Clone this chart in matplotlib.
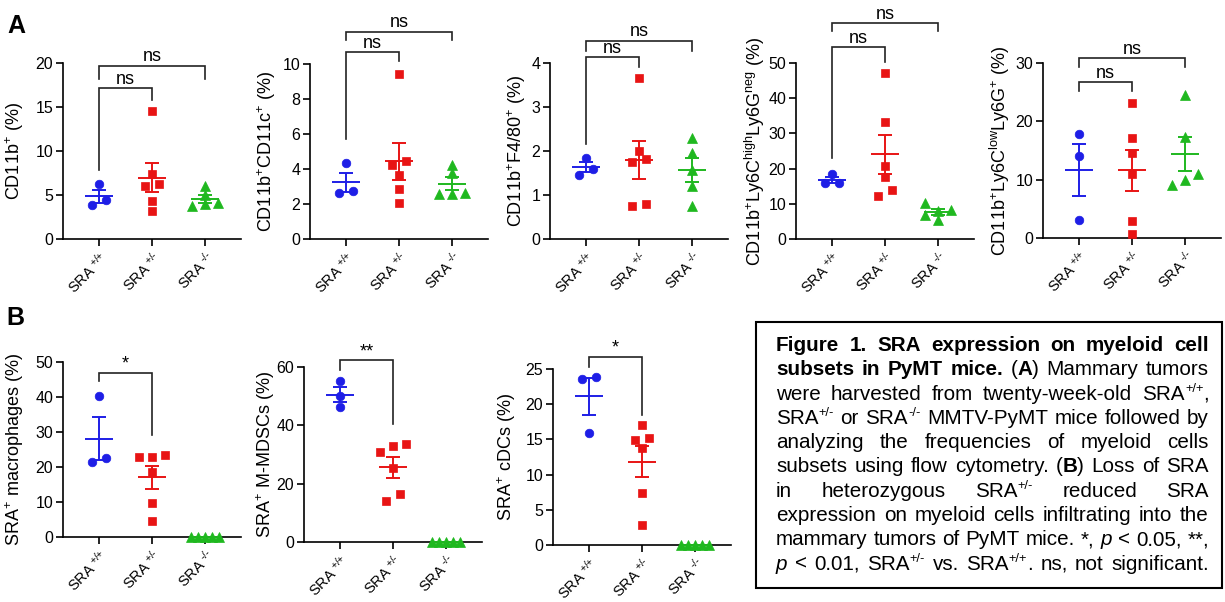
import re
import numpy as np
import matplotlib
matplotlib.use("Agg")
import matplotlib.pyplot as plt
from matplotlib.patches import Rectangle
from matplotlib.font_manager import FontProperties

plt.rcParams['font.family'] = ['Liberation Sans', 'DejaVu Sans']
plt.rcParams['mathtext.fontset'] = 'custom'
plt.rcParams['mathtext.rm'] = 'Liberation Sans'
plt.rcParams['mathtext.it'] = 'Liberation Sans:italic'
plt.rcParams['mathtext.bf'] = 'Liberation Sans:bold'
plt.rcParams['mathtext.default'] = 'regular'

W, H = 1225, 602

# ---------------- data ----------------
group_labels = [r"SRA$^{\text{ +/+}}$", r"SRA$^{\text{ +/-}}$", r"SRA$^{\text{ -/-}}$"]

# Panel A
cd11b_wt = [6.2, 3.9, 4.4]
cd11b_het = [14.6, 7.4, 6.0, 6.3, 4.3, 3.2]
cd11b_ko = [6.0, 3.7, 5.0, 4.0, 4.1]

cd11c_wt = [4.32, 2.65, 2.74]
cd11c_het = [9.41, 4.44, 4.25, 3.68, 2.86, 2.08]
cd11c_ko = [4.25, 3.75, 2.6, 2.6, 2.65]

f480_wt = [1.85, 1.45, 1.60]
f480_het = [3.65, 2.0, 1.74, 1.81, 0.75, 0.79]
f480_ko = [2.30, 1.96, 1.57, 1.21, 0.76]

ly6chigh_wt = [18.5, 15.8, 16.0]
ly6chigh_het = [47.2, 33.3, 20.6, 17.5, 12.3, 13.8]
ly6chigh_ko = [8.2, 5.4, 8.0, 10.1, 6.8]

ly6clow_wt = [17.8, 14.1, 3.1]
ly6clow_het = [23.2, 17.2, 14.6, 11.0, 3.0, 0.7]
ly6clow_ko = [24.6, 17.3, 11.0, 9.1, 10.0]

# Panel B
macro_wt = [40.2, 21.4, 22.6]
macro_het = [23.5, 22.9, 23.0, 18.7, 9.6, 4.5]
macro_ko = [0, 0, 0, 0, 0]

mmdsc_wt = [55.1, 50.1, 46.2]
mmdsc_het = [33.0, 33.6, 31.0, 25.3, 16.4, 14.1]
mmdsc_ko = [0, 0, 0, 0, 0]

cdc_wt = [23.8, 23.6, 15.9]
cdc_het = [17.0, 15.2, 14.9, 13.75, 7.4, 2.9]
cdc_ko = [0, 0, 0, 0, 0]

ylabels = [
    r"CD11b$^{\text{+}}$ (%)",
    r"CD11b$^{\text{+}}$CD11c$^{\text{+}}$ (%)",
    r"CD11b$^{\text{+}}$F4/80$^{\text{+}}$ (%)",
    r"CD11b$^{\text{+}}$Ly6C$^{\text{high}}$Ly6G$^{\text{neg}}$ (%)",
    r"CD11b$^{\text{+}}$Ly6C$^{\text{low}}$Ly6G$^{\text{+}}$ (%)",
    r"SRA$^{\text{+}}$ macrophages (%)",
    r"SRA$^{\text{+}}$ M-MDSCs (%)",
    r"SRA$^{\text{+}}$ cDCs (%)",
]
ymaxes = [20, 10, 4, 50, 30, 50, 60, 25]
ysteps = [5, 2, 1, 10, 10, 10, 20, 5]

caption_lines = [
    "{b:Figure 1. SRA expression on myeloid cell}",
    "{b:subsets in PyMT mice.} ({b:A}) Mammary tumors",
    "were harvested from twenty-week-old SRA{s:+/+},",
    "SRA{s:+/-} or SRA{s:-/-} MMTV-PyMT mice followed by",
    "analyzing the frequencies of myeloid cells",
    "subsets using flow cytometry. ({b:B}) Loss of SRA",
    "in heterozygous SRA{s:+/-} reduced SRA",
    "expression on myeloid cells infiltrating into the",
    "mammary tumors of PyMT mice. *, {i:p} < 0.05, **,",
    "{i:p} < 0.01, SRA{s:+/-} vs. SRA{s:+/+}. ns, not significant.",
]

# ---------------- styling / layout ----------------
colors = ['#1e1ee6', '#e81414', '#1fb81f']
markers = ['o', 's', '^']
msizes = [6.2, 5.8, 6.8]
AXW = 178.0
XLIM = (-0.68, 2.68)

panels = [
    dict(data=(cd11b_wt, cd11b_het, cd11b_ko), box=(63, 63, 239), lx=15,
         br=[(0, 1, 17.15, 7.85, 15.8, 'ns'), (0, 2, 19.7, 18.2, 18.2, 'ns')]),
    dict(data=(cd11c_wt, cd11c_het, cd11c_ko), box=(310, 64, 239), lx=267,
         br=[(0, 1, 10.7, 5.7, 10.2, 'ns'), (0, 2, 11.85, 11.4, 11.4, 'ns')]),
    dict(data=(f480_wt, f480_het, f480_ko), box=(550, 63, 239), lx=517,
         br=[(0, 1, 4.14, 2.15, 3.9, 'ns'), (0, 2, 4.51, 4.27, 4.27, 'ns')]),
    dict(data=(ly6chigh_wt, ly6chigh_het, ly6chigh_ko), box=(796, 63, 239), lx=755,
         br=[(0, 1, 54.5, 23.0, 50.3, 'ns'), (0, 2, 61.4, 59.0, 59.0, 'ns')]),
    dict(data=(ly6clow_wt, ly6clow_het, ly6clow_ko), box=(1043, 63, 238), lx=1000,
         br=[(0, 1, 26.7, 25.2, 25.2, 'ns'), (0, 2, 30.85, 29.4, 29.4, 'ns')]),
    dict(data=(macro_wt, macro_het, macro_ko), box=(63, 362, 537), lx=15,
         br=[(0, 1, 46.9, 44.5, 29.2, '*')]),
    dict(data=(mmdsc_wt, mmdsc_het, mmdsc_ko), box=(304, 367, 542), lx=266,
         br=[(0, 1, 62.3, 58.9, 40.4, '**')]),
    dict(data=(cdc_wt, cdc_het, cdc_ko), box=(553, 369, 545), lx=507,
         br=[(0, 1, 26.7, 25.3, 18.5, '*')]),
]


def swarm_offsets(vals, px_unit, px_cat, step_px=13.3, thr_px=7.5, max_half_px=14.0):
    v = np.asarray(vals, float)
    order = np.argsort(v, kind='stable')
    offs = np.zeros(len(v))
    chains, cur = [], [order[0]]
    for a, b in zip(order[:-1], order[1:]):
        if (v[b] - v[a]) * px_unit < thr_px:
            cur.append(b)
        else:
            chains.append(cur)
            cur = [b]
    chains.append(cur)
    for ch in chains:
        n = len(ch)
        if n == 1:
            continue
        span = (v[ch[-1]] - v[ch[0]]) * px_unit
        if n <= 3 or span < thr_px:
            s = min(step_px, 2 * max_half_px / (n - 1))
            for i, idx in enumerate(ch):
                offs[idx] = (i - (n - 1) / 2) * s
        else:
            placed = []
            for idx in ch:
                for c in [0, -1, 1, -2, 2]:
                    ok = all(not (pc == c and abs(v[idx] - pv) * px_unit < thr_px)
                             for pc, pv in placed)
                    if ok:
                        offs[idx] = c * step_px
                        placed.append((c, v[idx]))
                        break
    return offs / px_cat


fig = plt.figure(figsize=(W / 100, H / 100), dpi=100)

for p, ylab, ymax, ystep in zip(panels, ylabels, ymaxes, ysteps):
    l, t, b = p['box']
    ax = fig.add_axes([l / W, 1 - b / H, AXW / W, (b - t) / H])
    ax.set_xlim(*XLIM)
    ax.set_ylim(0, ymax)
    ax.set_yticks(np.arange(0, ymax + 1e-9, ystep))
    ax.set_xticks([0, 1, 2])
    ax.set_xticklabels(group_labels, rotation=45, ha='right', va='top',
                       rotation_mode='anchor', fontsize=10.5)
    for sp in ['top', 'right']:
        ax.spines[sp].set_visible(False)
    for sp in ['left', 'bottom']:
        ax.spines[sp].set_linewidth(1.2)
    ax.tick_params(axis='y', direction='out', length=5, width=1.2, labelsize=11.5, pad=2)
    ax.tick_params(axis='x', direction='out', length=5, width=1.2, pad=2)
    ax.set_ylabel(ylab, fontsize=13, va='center')
    ax.yaxis.set_label_coords((p['lx'] - l) / AXW, 0.5)

    px_unit = (b - t) / ymax
    px_cat = AXW / (XLIM[1] - XLIM[0])
    for gi, vals in enumerate(p['data']):
        col = colors[gi]
        offs = swarm_offsets(vals, px_unit, px_cat)
        ax.plot(gi + offs, vals, ls='none', marker=markers[gi], ms=msizes[gi],
                color=col, mec=col, mew=0.5, clip_on=False, zorder=3)
        m = np.mean(vals)
        s = np.std(vals, ddof=1) / np.sqrt(len(vals))
        ax.hlines(m, gi - 0.27, gi + 0.27, color=col, lw=1.4, zorder=4, clip_on=False)
        if s > 0:
            ax.hlines([m - s, m + s], gi - 0.14, gi + 0.14, color=col, lw=1.4, zorder=4)
            ax.vlines(gi, m - s, m + s, color=col, lw=1.4, zorder=4)

    for x1, x2, yt, yl, yr, txt in p['br']:
        ax.plot([x1, x1, x2, x2], [yl, yt, yt, yr], color='#222222', lw=1.2,
                clip_on=False, solid_joinstyle='miter', zorder=5)
        ax.annotate(txt, xy=((x1 + x2) / 2, yt), xytext=(0, 3), textcoords='offset points',
                    ha='center', va='baseline', fontsize=13, annotation_clip=False)

# panel letters
fig.text(16 / W, 1 - 26 / H, 'A', fontsize=18, fontweight='bold', ha='center', va='center')
fig.text(15 / W, 1 - 318 / H, 'B', fontsize=18, fontweight='bold', ha='center', va='center')

# caption box
bx0, by0, bx1, by1 = 756, 322, 1222, 588
fig.patches.append(Rectangle((bx0 / W, 1 - by1 / H), (bx1 - bx0) / W, (by1 - by0) / H,
                             transform=fig.transFigure, fill=False, lw=1.5, ec='black'))

cap_left, cap_right = 776, 1209
cap_base0, cap_step = 351, 24.3


def parse_runs(line):
    runs, pos = [], 0
    for m in re.finditer(r'\{([bis]):([^}]*)\}', line):
        if m.start() > pos:
            runs.append((line[pos:m.start()], 'r'))
        runs.append((m.group(2), m.group(1)))
        pos = m.end()
    if pos < len(line):
        runs.append((line[pos:], 'r'))
    return runs


def split_words(runs):
    words = [[]]
    for text, st in runs:
        parts = text.split(' ')
        for k, part in enumerate(parts):
            if k > 0:
                words.append([])
            if part:
                words[-1].append((part, st))
    return [w for w in words if w]


def run_props(st, fs):
    if st == 'b':
        return dict(fontsize=fs, fontweight='bold', fontstyle='normal')
    if st == 'i':
        return dict(fontsize=fs, fontweight='normal', fontstyle='italic')
    if st == 's':
        return dict(fontsize=fs * 0.62, fontweight='normal', fontstyle='normal')
    return dict(fontsize=fs, fontweight='normal', fontstyle='normal')


renderer = fig.canvas.get_renderer()


def text_w(s, st, fs):
    pr = run_props(st, fs)
    fp = FontProperties(family=['Liberation Sans'], size=pr['fontsize'],
                        weight=pr['fontweight'], style=pr['fontstyle'])
    w, h, d = renderer.get_text_width_height_descent(s, fp, ismath=False)
    return w


line_words = [split_words(parse_runs(ln)) for ln in caption_lines]


def natural_width(words, fs):
    sw = text_w('n n', 'r', fs) - text_w('nn', 'r', fs)
    return sum(sum(text_w(s, st, fs) for s, st in w) for w in words) + sw * (len(words) - 1)


fs0 = 12.0
maxnat = max(natural_width(w, fs0) for w in line_words)
cap_fs = fs0 * (cap_right - cap_left) / maxnat

for li, words in enumerate(line_words):
    base = cap_base0 + li * cap_step
    wlist = [sum(text_w(s, st, cap_fs) for s, st in w) for w in words]
    gap = ((cap_right - cap_left) - sum(wlist)) / max(len(words) - 1, 1)
    x = cap_left
    for w, ww in zip(words, wlist):
        xx = x
        for s, st in w:
            pr = run_props(st, cap_fs)
            yy = base - (0.38 * cap_fs * 100 / 72 if st == 's' else 0)
            fig.text(xx / W, 1 - yy / H, s, ha='left', va='baseline', **pr)
            xx += text_w(s, st, cap_fs)
        x += ww + gap

fig.savefig('out.png', dpi=100)
